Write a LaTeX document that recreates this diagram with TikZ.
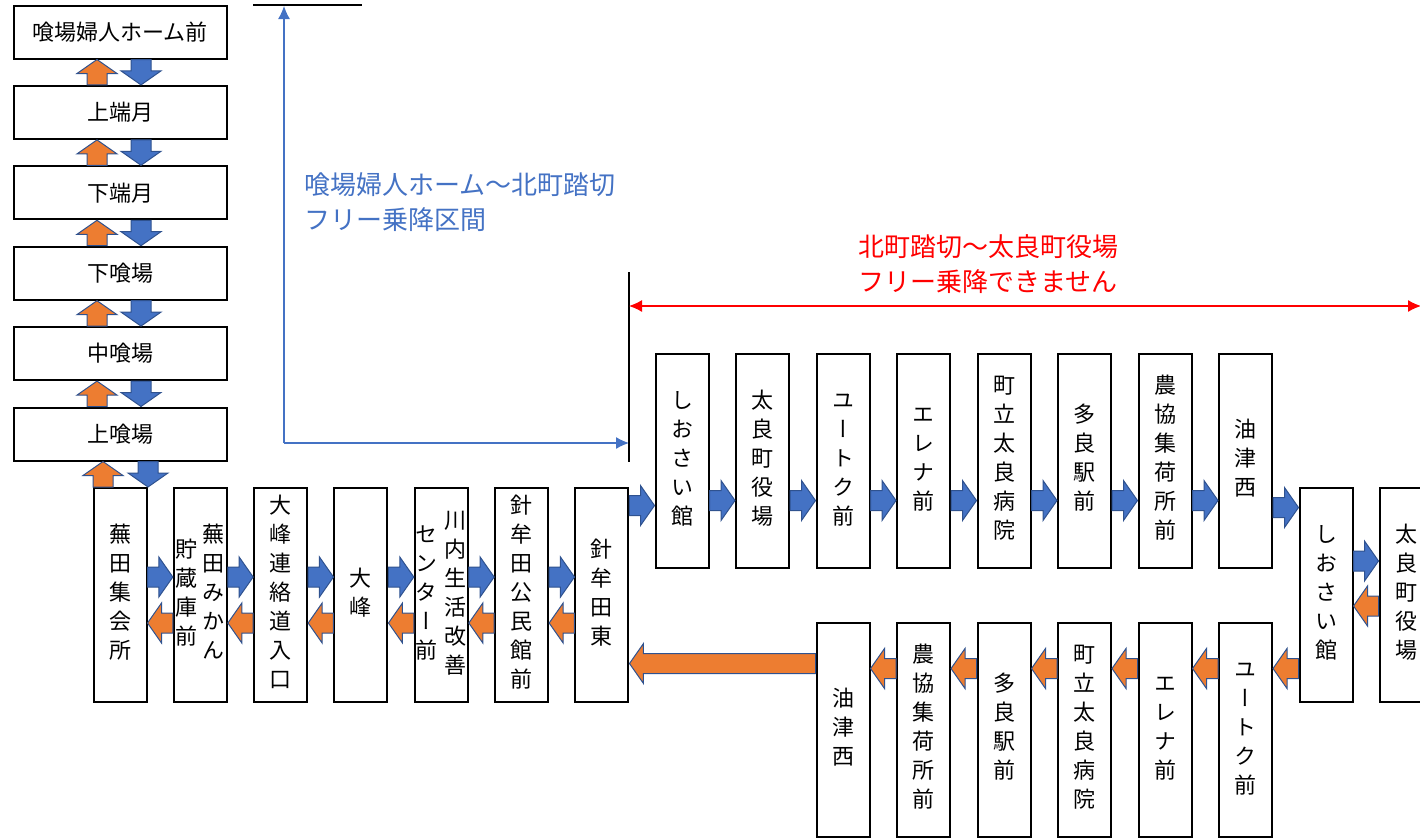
\documentclass[tikz,border=0pt]{standalone}
\usepackage{fontspec}
\usetikzlibrary{calc,arrows.meta}
\newfontfamily\jp{Noto Sans CJK JP}
\newfontfamily\jpv[RawFeature=+vert]{Noto Sans CJK JP}
\definecolor{ablue}{HTML}{4472C4}
\definecolor{aline}{HTML}{2F528F}
\definecolor{aorange}{HTML}{ED7D31}
\newcommand{\tate}[1]{\begin{tabular}[c]{@{}c@{}}#1\end{tabular}}
\newcommand{\blockarrow}[3][]{%
  \draw[barrow,#1] let \p1=#2, \p2=#3,
    \n1={veclen(\x2-\x1,\y2-\y1)}, \n2={atan2(\y2-\y1,\x2-\x1)} in
    [shift={(\p1)}, rotate=\n2]
    (0pt,-10pt) -- (\n1-14pt,-10pt) -- (\n1-14pt,-20pt) -- (\n1,0pt)
    -- (\n1-14pt,20pt) -- (\n1-14pt,10pt) -- (0pt,10pt) -- cycle;}
\tikzset{
  hstop/.style={draw, fill=white, line width=2pt, minimum width=213pt,
    minimum height=53pt, inner sep=0pt, font=\jp\fontsize{22}{29}\selectfont},
  vstop/.style={draw, fill=white, line width=2pt, minimum width=53pt,
    minimum height=214pt, inner sep=0pt, font=\jpv\fontsize{22}{29}\selectfont},
  barrow/.style={draw=aline, line width=1pt, line join=miter},
  gofwd/.style={fill=ablue},
  goback/.style={fill=aorange},
  freeline/.style={draw=ablue, line width=1.2pt},
  noline/.style={draw=red, line width=1.2pt},
}
\begin{document}
\begin{tikzpicture}[x=1pt, y=-1pt, >={Latex[length=13pt,width=12pt]}]
\useasboundingbox (0,0) rectangle (1420,839);
% left column
\foreach \txt [count=\i] in {喰場婦人ホーム前, 上端月, 下端月, 下喰場, 中喰場, 上喰場}
{
    \node[hstop] (l\i) at (120,{32+80.4*(\i-1)}) {\txt};
}
% lower row, going out
\foreach \txt [count=\i] in {\tate{蕪\\田\\集\\会\\所},
    {\tate{貯\\蔵\\庫\\前}\hspace{5pt}\tate{蕪\\田\\み\\か\\ん}},
    \tate{大\\峰\\連\\絡\\道\\入\\口}, \tate{大\\峰},
    {\tate{セ\\ン\\タ\\ー\\前}\hspace{7pt}\tate{川\\内\\生\\活\\改\\善}},
    \tate{針\\牟\\田\\公\\民\\館\\前}, \tate{針\\牟\\田\\東}}
{
    \node[vstop] (b\i) at ({120+80.33*(\i-1)},595) {\txt};
}
% upper row
\foreach \txt [count=\i] in {し\\お\\さ\\い\\館, 太\\良\\町\\役\\場, ユ\\ー\\ト\\ク\\前,
    エ\\レ\\ナ\\前, 町\\立\\太\\良\\病\\院, 多\\良\\駅\\前, 農\\協\\集\\荷\\所\\前, 油\\津\\西}
{
    \node[vstop] (t\i) at ({682+80.5*(\i-1)},460.5) {\tate{\txt}};
}
\node[vstop] (r1) at (1326,595) {\tate{し\\お\\さ\\い\\館}};
\node[vstop] (r2) at (1406,595) {\tate{太\\良\\町\\役\\場}};
% return row
\foreach \txt [count=\i] in {油\\津\\西, 農\\協\\集\\荷\\所\\前, 多\\良\\駅\\前,
    町\\立\\太\\良\\病\\院, エ\\レ\\ナ\\前, ユ\\ー\\ト\\ク\\前}
{
    \node[vstop] (u\i) at ({843+80.5*(\i-1)},729.5) {\tate{\txt}};
}

% block arrows
\foreach \i/\j in {1/2,2/3,3/4,4/5,5/6}
{
    \blockarrow[goback]{($(l\j.north)+(-23,0)$)}{($(l\i.south)+(-23,0)$)}
    \blockarrow[gofwd]{($(l\i.south)+(21,0)$)}{($(l\j.north)+(21,0)$)}
}
\blockarrow[goback]{($(b1.north)+(-17,0)$)}{($(l6.south)+(-17,0)$)}
\blockarrow[gofwd]{($(l6.south)+(28,0)$)}{($(b1.north)+(28,0)$)}
\foreach \i/\j in {1/2,2/3,3/4,4/5,5/6,6/7}
{
    \blockarrow[gofwd]{($(b\i.east)+(0,-18)$)}{($(b\j.west)+(0,-18)$)}
    \blockarrow[goback]{($(b\j.west)+(0,28)$)}{($(b\i.east)+(0,28)$)}
}
\blockarrow[gofwd]{($(b7.east |- t1.west)+(0,45)$)}{($(t1.west)+(0,45)$)}
\foreach \i/\j in {1/2,2/3,3/4,4/5,5/6,6/7,7/8}
{
    \blockarrow[gofwd]{($(t\i.east)+(0,40)$)}{($(t\j.west)+(0,40)$)}
}
\blockarrow[gofwd]{($(t8.east)+(0,47)$)}{($(r1.west |- t8.east)+(0,47)$)}
\blockarrow[gofwd]{($(r1.east)+(0,-34)$)}{($(r2.west)+(0,-34)$)}
\blockarrow[goback]{($(r2.west)+(0,11)$)}{($(r1.east)+(0,11)$)}
\blockarrow[goback]{($(r1.west |- u6.east)+(0,-61)$)}{($(u6.east)+(0,-61)$)}
\foreach \i/\j in {1/2,2/3,3/4,4/5,5/6}
{
    \blockarrow[goback]{($(u\j.west)+(0,-61)$)}{($(u\i.east)+(0,-61)$)}
}
\blockarrow[goback]{($(u1.west)+(0,-66)$)}{($(b7.east |- u1.west)+(0,-66)$)}

% free section marks
\coordinate (fcorner) at (284,443);
\coordinate (ftop) at (284,6);
\coordinate (kita) at (629,443);
\coordinate (kitatop) at (629,272);
\coordinate (kitabot) at (629,462);
\coordinate (taraend) at (1421,306);
\draw[line width=1.5pt] (253,5) -- (362,5);
\draw[freeline,->] (fcorner) -- (ftop);
\draw[freeline,->] (fcorner) -- (kita);
\draw[line width=2pt] (kitatop) -- (kitabot);
\draw[noline,<->] (kitatop |- taraend) -- (taraend);
\node[anchor=west, align=left, inner sep=0pt, text=ablue,
    font=\jp\fontsize{26}{35}\selectfont] (freetxt) at (304,202.5)
    {喰場婦人ホーム～北町踏切\\フリー乗降区間};
\node[align=center, inner sep=0pt, text=red,
    font=\jp\fontsize{26}{35}\selectfont] (notxt) at (988,264.5)
    {北町踏切～太良町役場\\フリー乗降できません};
\end{tikzpicture}
\end{document}
